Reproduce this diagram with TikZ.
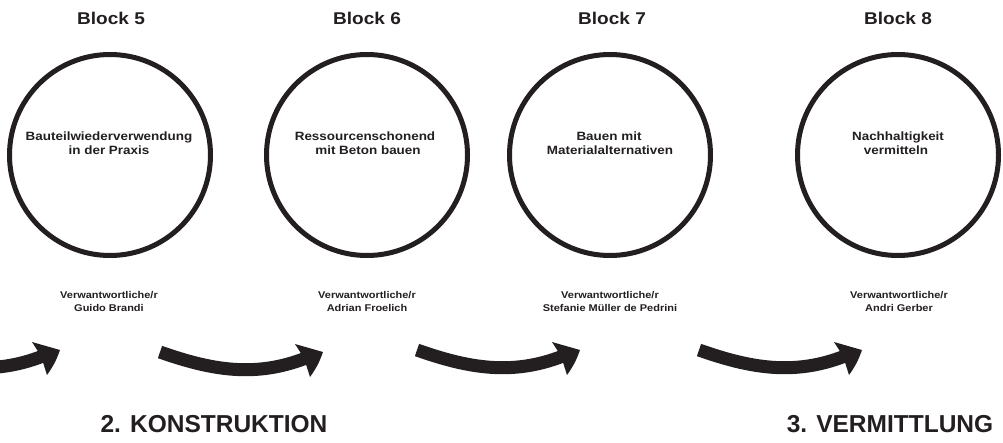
\documentclass[tikz,border=0pt]{standalone}
\usepackage{fontspec}
\setmainfont{Liberation Sans}
\newfontfamily\widefont[FakeStretch=1.12]{Liberation Sans}
\definecolor{ink}{HTML}{231F20}
\tikzset{
  blockcircle/.style={circle, draw=ink, line width=5pt, minimum size=201pt, inner sep=0pt},
  blocklabel/.style={anchor=base, inner sep=0pt, text=ink, font=\widefont\fontsize{17}{20}\selectfont\bfseries},
  topic/.style={anchor=base, inner sep=0pt, text=ink, font=\widefont\fontsize{12}{14}\selectfont\bfseries},
  person/.style={anchor=base, inner sep=0pt, text=ink, font=\widefont\fontsize{9.8}{12}\selectfont\bfseries},
  phase/.style={anchor=base, inner sep=0pt, text=ink, font=\fontsize{24.5}{28}\selectfont\bfseries},
  shaft/.style={draw=ink, line width=13pt},
  head/.style={fill=ink}
}
\newcommand{\flowarrow}[2]{%
  \begin{scope}[shift={(#1,#2)}]
    \draw[shaft] (-163,0) .. controls (-112,18) and (-68,26) .. (-17,6);
    \fill[head] (0,0) -- (-28,-8) -- (-19,6) -- (-13,25) to[bend right=8] (0,0) -- cycle;
  \end{scope}}
\begin{document}
\begin{tikzpicture}[x=1pt, y=-1pt]
  \clip (0,0) rectangle (1003,442);
  \fill[white] (0,0) rectangle (1003,442);
  % circles
  \node[blockcircle] (c5) at (110,155) {};
  \node[blockcircle] (c6) at (367,155) {};
  \node[blockcircle] (c7) at (610,155) {};
  \node[blockcircle] (c8) at (898,155) {};
  % block labels
  \node[blocklabel] (b5) at (111,24) {Block 5};
  \node[blocklabel] (b6) at (367,24) {Block 6};
  \node[blocklabel] (b7) at (612,24) {Block 7};
  \node[blocklabel] (b8) at (898,24) {Block 8};
  % topics
  \node[topic] (t5a) at (109,140) {Bauteilwiederverwendung};
  \node[topic] (t5b) at (109,154) {in der Praxis};
  \node[topic] (t6a) at (365,140) {Ressourcenschonend};
  \node[topic] (t6b) at (368,154) {mit Beton bauen};
  \node[topic] (t7a) at (609,140) {Bauen mit};
  \node[topic] (t7b) at (610,154) {Materialalternativen};
  \node[topic] (t8a) at (898,140) {Nachhaltigkeit};
  \node[topic] (t8b) at (896,154) {vermitteln};
  % persons
  \node[person] (p5a) at (109,298) {Verwantwortliche/r};
  \node[person] (p5b) at (109,311) {Guido Brandi};
  \node[person] (p6a) at (367,298) {Verwantwortliche/r};
  \node[person] (p6b) at (367,311) {Adrian Froelich};
  \node[person] (p7a) at (610,298) {Verwantwortliche/r};
  \node[person] (p7b) at (610,311) {Stefanie Müller de Pedrini};
  \node[person] (p8a) at (899,298) {Verwantwortliche/r};
  \node[person] (p8b) at (899,311) {Andri Gerber};
  % arrows
  \flowarrow{60}{350}
  \flowarrow{323}{352}
  \flowarrow{580}{350}
  \flowarrow{862}{350}
  % phases
  \node[phase] (ph2) at (214,432) {2. KONSTRUKTION};
  \node[phase] (ph3) at (890,432) {3. VERMITTLUNG};
\end{tikzpicture}
\end{document}
